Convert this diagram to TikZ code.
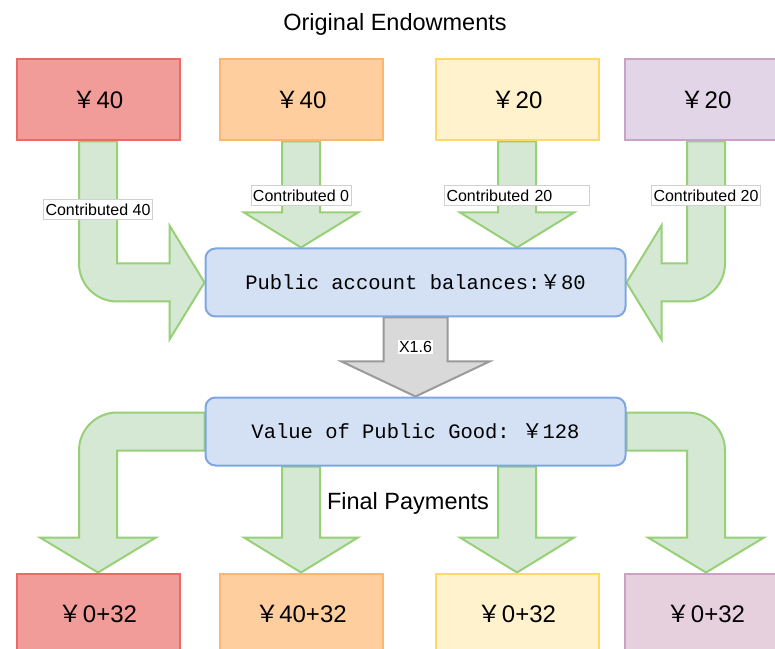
\documentclass[tikz,border=0pt]{standalone}
\usepackage{fontspec}
\setmainfont{Liberation Sans}
\setmonofont{Liberation Mono}
\newfontfamily\cjk{Noto Sans CJK SC}
\usetikzlibrary{positioning, calc, backgrounds}

\definecolor{redfill}{HTML}{F19C99}
\definecolor{redline}{HTML}{EA6B66}
\definecolor{orangefill}{HTML}{FFCE9F}
\definecolor{orangeline}{HTML}{FFB570}
\definecolor{yellowfill}{HTML}{FFF2CC}
\definecolor{yellowline}{HTML}{FFD966}
\definecolor{purplefill}{HTML}{E1D5E7}
\definecolor{pinkfill}{HTML}{E6D0DE}
\definecolor{purpleline}{HTML}{C9A3C6}
\definecolor{bluefill}{HTML}{D4E1F5}
\definecolor{blueline}{HTML}{7EA6E0}
\definecolor{greenfill}{HTML}{D5E8D4}
\definecolor{greenline}{HTML}{97D077}
\definecolor{greyfill}{HTML}{D9D9D9}
\definecolor{greyline}{HTML}{9A9A9A}
\definecolor{tagline}{HTML}{D0D0D0}

\newcommand{\cny}{{\cjk ￥}}

% straight block arrow: start, tip, half shaft, half head
\newcommand{\fatdown}[5][fat]{%
  \draw[#1] let \p1=#2, \p2=#3 in
    ({\x2-#4},\y1) -- ({\x2-#4},{\y2+35}) -- ({\x2-#5},{\y2+35}) -- (\p2)
    -- ({\x2+#5},{\y2+35}) -- ({\x2+#4},{\y2+35}) -- ({\x2+#4},\y1) -- cycle;}
% bent block arrow into the account box (1 = to the right, -1 = to the left)
\newcommand{\fatin}[3]{%
  \draw[fat] let \p1=(#1.south), \p2=#2 in
    ({\x1-19*(#3)},\y1) -- ({\x1-19*(#3)},{\y2+19})
    arc[start angle={90+90*(#3)}, end angle={90+180*(#3)}, radius=38]
    -- ({\x2-35*(#3)},{\y2-19}) -- ({\x2-35*(#3)},{\y2-57}) -- (\p2)
    -- ({\x2-35*(#3)},{\y2+57}) -- ({\x2-35*(#3)},{\y2+19})
    -- ({\x1+19*(#3)},{\y2+19}) -- ({\x1+19*(#3)},\y1) -- cycle;}
% bent block arrow out of the public good box
\newcommand{\fatout}[3]{%
  \draw[fat] let \p1=#1, \p2=(#2.north) in
    (\x1,{\y1+19}) -- ({\x2-19*(#3)},{\y1+19})
    arc[start angle=90, end angle={90-90*(#3)}, radius=38]
    -- ({\x2+19*(#3)},{\y2+35}) -- ({\x2+58*(#3)},{\y2+35}) -- (\p2)
    -- ({\x2-58*(#3)},{\y2+35}) -- ({\x2-19*(#3)},{\y2+35})
    -- ({\x2-19*(#3)},{\y1-19}) -- (\x1,{\y1-19}) -- cycle;}

\begin{document}
\begin{tikzpicture}[
    x=1pt, y=1pt,
    block/.style={rectangle, draw, line width=2pt, minimum width=163pt, minimum height=81pt, font=\fontsize{24}{28}\selectfont},
    rblock/.style={rectangle, rounded corners=10pt, draw=blueline, fill=bluefill, line width=2pt, minimum width=420pt, minimum height=68pt, font=\ttfamily\fontsize{20.5}{24}\selectfont},
    fat/.style={draw=greenline, fill=greenfill, line width=2pt},
    fatgrey/.style={draw=greyline, fill=greyfill, line width=2pt},
    tag/.style={fill=white, draw=tagline, line width=0.6pt, inner xsep=2pt, inner ysep=0pt, minimum height=20pt, font=\fontsize{16}{19}\selectfont},
    title/.style={font=\fontsize{23.5}{28}\selectfont}
]
    \useasboundingbox (0,0) rectangle (775,648);

    \node[title] (start) at (395,624) {Original Endowments};
    \node[block, fill=redfill, draw=redline] (redtop) at (98,548) {\cny40};
    \node[block, fill=orangefill, draw=orangeline] (orangetop) at (301,548) {\cny40};
    \node[block, fill=yellowfill, draw=yellowline] (yellowtop) at (517,548) {\cny20};
    \node[block, fill=purplefill, draw=purpleline] (purpletop) at (706,548) {\cny20};

    \node[rblock] (account) at (415.5,365.5) {Public account balances:\cny80};
    \node[rblock] (good) at (415.5,216.5) {Value of Public Good: \cny128};

    \node[block, fill=redfill, draw=redline] (redpay) at (98,34) {\cny0+32};
    \node[block, fill=orangefill, draw=orangeline] (orangepay) at (301,34) {\cny40+32};
    \node[block, fill=yellowfill, draw=yellowline] (yellowpay) at (517,34) {\cny0+32};
    \node[block, fill=pinkfill, draw=purpleline] (purplepay) at (706,34) {\cny0+32};

    \node[title, fill=white, inner xsep=6pt, inner ysep=2pt] (final) at (408,145) {Final Payments};

    \begin{scope}[on background layer]
        \fatin{redtop}{(account.west)}{1}
        \fatdown{(orangetop.south)}{(orangetop.south |- account.north)}{19}{57}
        \fatdown{(yellowtop.south)}{(yellowtop.south |- account.north)}{19}{57}
        \fatin{purpletop}{(account.east)}{-1}
        \fatdown[fatgrey]{(account.south)}{(good.north)}{32}{74}
        \fatout{(good.west)}{redpay}{-1}
        \fatdown{(orangepay.north |- good.south)}{(orangepay.north)}{19}{57}
        \fatdown{(yellowpay.north |- good.south)}{(yellowpay.north)}{19}{57}
        \fatout{(good.east)}{purplepay}{1}
    \end{scope}

    \node[tag, below=58pt of redtop.south] (give1) {Contributed 40};
    \node[tag, below=44pt of orangetop.south] (give2) {Contributed 0};
    \node[tag, text width=141pt, below=44pt of yellowtop.south] (give3) {Contributed 20};
    \node[tag, below=44pt of purpletop.south] (give4) {Contributed 20};
    \node[fill=white, inner sep=1pt, font=\fontsize{16}{19}\selectfont] (factor) at ($(account.south)!0.5!(good.north)+(0,10)$) {X1.6};
\end{tikzpicture}
\end{document}
